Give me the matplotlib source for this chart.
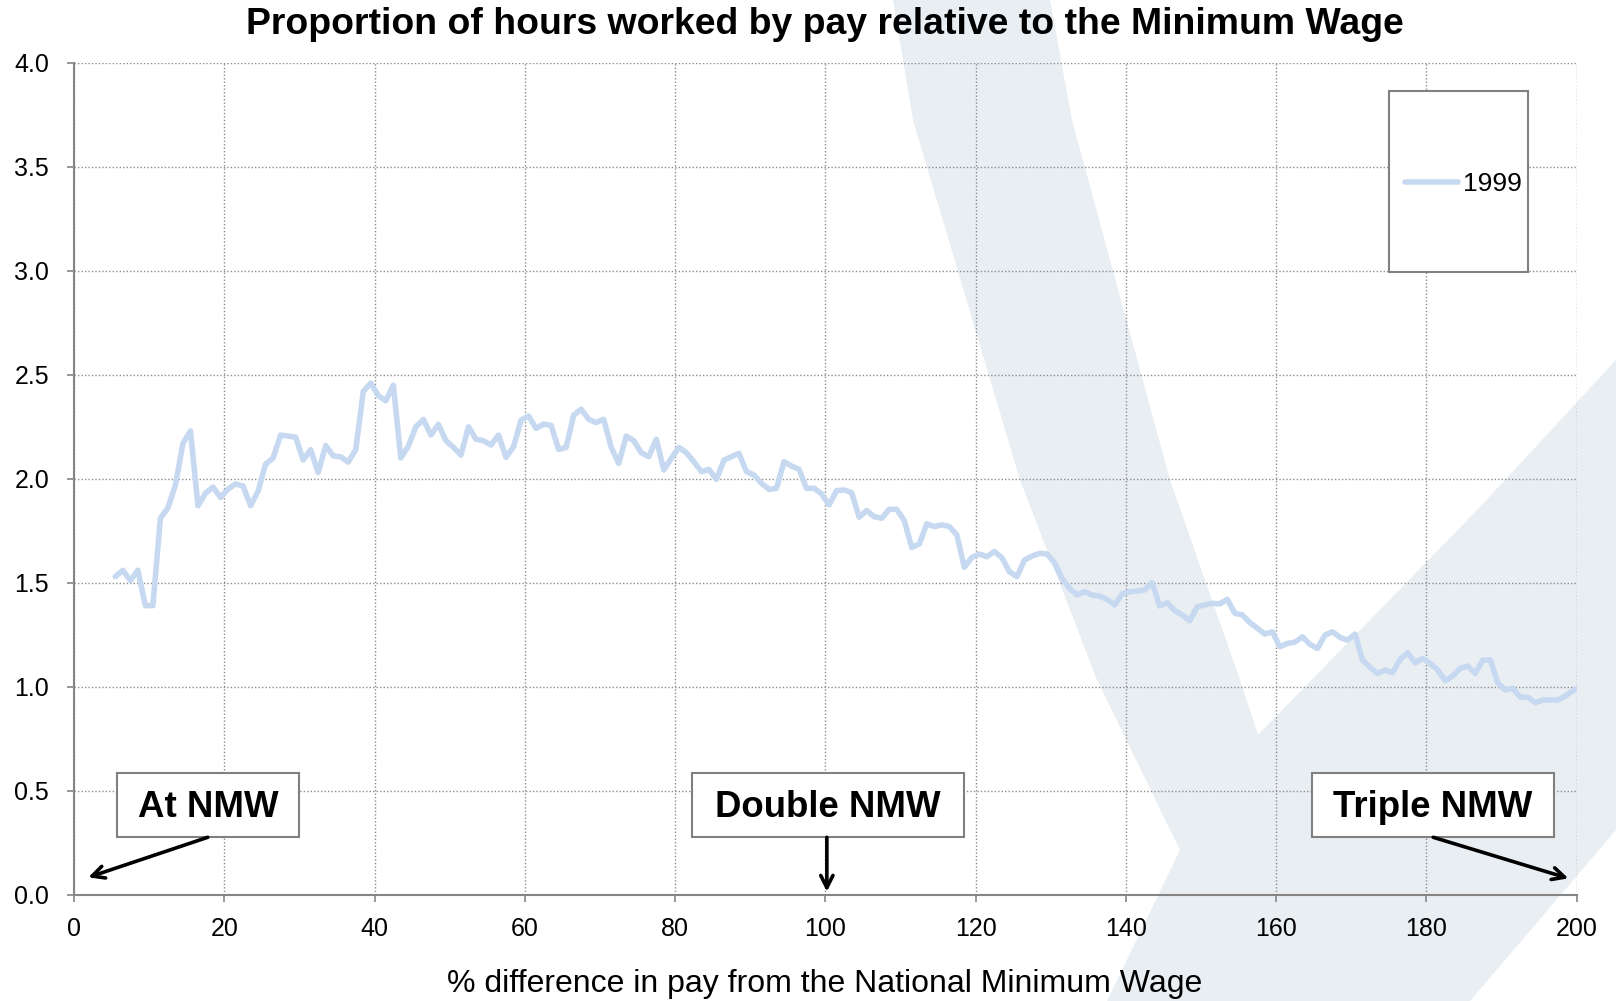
import numpy as np
import matplotlib.pyplot as plt
from matplotlib.patches import Polygon, Rectangle

plt.rcParams['font.family'] = ['Liberation Sans', 'DejaVu Sans']

# % difference from the NMW (bin mid-points) and share of hours worked, 1999
pct_diff = np.arange(5, 201) + 0.5
share_1999 = [
    1.53, 1.56, 1.51, 1.56, 1.39, 1.39, 1.81, 1.86, 1.97, 2.17,   # 5-14
    2.23, 1.87, 1.93, 1.96, 1.91, 1.95, 1.975, 1.965, 1.87, 1.94,  # 15-24
    2.07, 2.10, 2.21, 2.205, 2.20, 2.09, 2.14, 2.03, 2.16, 2.11,   # 25-34
    2.105, 2.08, 2.14, 2.42, 2.46, 2.40, 2.375, 2.45, 2.10, 2.157,  # 35-44
    2.25, 2.285, 2.21, 2.262, 2.183, 2.151, 2.114, 2.25, 2.19, 2.183,  # 45-54
    2.162, 2.21, 2.103, 2.154, 2.282, 2.302, 2.242, 2.263, 2.257, 2.141,  # 55-64
    2.151, 2.306, 2.334, 2.286, 2.27, 2.286, 2.151, 2.074, 2.205, 2.183,  # 65-74
    2.125, 2.106, 2.19, 2.042, 2.098, 2.151, 2.125, 2.082, 2.034, 2.045,  # 75-84
    1.997, 2.09, 2.106, 2.122, 2.034, 2.018, 1.978, 1.949, 1.954, 2.082,  # 85-94
    2.061, 2.045, 1.954, 1.954, 1.927, 1.874, 1.943, 1.946, 1.933, 1.815,  # 95-104
    1.847, 1.818, 1.81, 1.853, 1.853, 1.799, 1.67, 1.686, 1.783, 1.77,  # 105-114
    1.778, 1.77, 1.73, 1.574, 1.622, 1.638, 1.625, 1.65, 1.62, 1.553,  # 115-124
    1.529, 1.609, 1.628, 1.641, 1.638, 1.596, 1.521, 1.473, 1.441, 1.457,  # 125-134
    1.441, 1.436, 1.42, 1.393, 1.446, 1.457, 1.46, 1.465, 1.50, 1.388,  # 135-144
    1.404, 1.366, 1.345, 1.317, 1.385, 1.393, 1.401, 1.398, 1.42, 1.353,  # 145-154
    1.345, 1.308, 1.281, 1.253, 1.264, 1.192, 1.208, 1.214, 1.24, 1.203,  # 155-164
    1.184, 1.248, 1.264, 1.237, 1.224, 1.253, 1.128, 1.093, 1.064, 1.08,  # 165-174
    1.067, 1.131, 1.163, 1.115, 1.136, 1.112, 1.08, 1.029, 1.051, 1.088,  # 175-184
    1.099, 1.064, 1.128, 1.128, 1.019, 0.984, 0.992, 0.949, 0.949, 0.923,  # 185-194
    0.936, 0.936, 0.936, 0.955, 0.981, 1.0,                             # 195-200
]

x_ticks = [0, 20, 40, 60, 80, 100, 120, 140, 160, 180, 200]
y_ticks = [0.0, 0.5, 1.0, 1.5, 2.0, 2.5, 3.0, 3.5, 4.0]

W, H = 1616, 1001
fig = plt.figure(figsize=(W / 100, H / 100), dpi=100)


def fpx(pts):
    # pixel coords (y down) -> figure fraction
    return [(x / W, 1 - y / H) for x, y in pts]


# faint logo in the background
logo = [(893, 0), (1050, 0), (1072, 120), (1170, 480), (1240, 680), (1258, 735),
        (1480, 507), (1616, 360), (1616, 830), (1470, 1001), (1107, 1001),
        (1180, 850), (1097, 680), (1020, 480), (913, 120)]
fig.add_artist(Polygon(fpx(logo), closed=True, transform=fig.transFigure,
                       facecolor='#E9EEF3', edgecolor='none', zorder=-5))

ax = fig.add_axes([74 / W, 1 - 894.6 / H, (1576.7 - 74) / W, (894.6 - 62.9) / H])
ax.patch.set_alpha(0)

ax.plot(pct_diff, share_1999, color='#C6D9F1', lw=4.0, solid_joinstyle='round',
        solid_capstyle='round', label='1999', zorder=3)

ax.set_xlim(0, 200)
ax.set_ylim(0, 4)
ax.set_xticks(x_ticks)
ax.set_yticks(y_ticks)
ax.set_yticklabels(['%.1f' % v for v in y_ticks])
ax.grid(True, color='#8C8C8C', lw=1.0, linestyle=(0, (1, 1.5)), zorder=1)
for s in ['top', 'right']:
    ax.spines[s].set_visible(False)
for s in ['left', 'bottom']:
    ax.spines[s].set_color('#868686')
    ax.spines[s].set_linewidth(1.5)
ax.tick_params(axis='both', direction='out', length=5, width=1.2, color='#868686',
               labelsize=18, labelcolor='black')
ax.tick_params(axis='y', pad=13)
ax.tick_params(axis='x', pad=11)

# legend in a tall box
ax.add_patch(Rectangle((0.875, 0.7486), 0.0926, 0.2176, transform=ax.transAxes,
                       facecolor='white', edgecolor='#808080', lw=1.5, zorder=5))
ax.legend(loc='center left', bbox_to_anchor=(0.8858, 0.854), frameon=False,
          fontsize=19, handlelength=2.0, handletextpad=0.2, borderpad=0,
          borderaxespad=0).set_zorder(6)

# annotation boxes with arrows
notes = [('At NMW', 5.76, 29.91, (17.8, 0.2756), (1.9, 0.083)),
         ('Double NMW', 82.22, 118.5, (100.2, 0.2756), (100.2, 0.014)),
         ('Triple NMW', 164.74, 196.99, (180.9, 0.2756), (198.9, 0.078))]
for label, x0, x1, start, tip in notes:
    ax.add_patch(Rectangle((x0, 0.2756), x1 - x0, 0.3107, facecolor='white',
                           edgecolor='#808080', lw=1.5, zorder=5))
    ax.text((x0 + x1) / 2, 0.42, label, ha='center', va='center',
            fontsize=26.4, fontweight='bold', zorder=6)
    ax.annotate('', xy=tip, xytext=start, zorder=6,
                arrowprops=dict(arrowstyle='->', lw=2.6, color='black',
                                mutation_scale=22, shrinkA=0, shrinkB=0))

fig.text(825 / W, 1 - 24 / H, 'Proportion of hours worked by pay relative to the Minimum Wage',
         ha='center', va='center', fontsize=26.9, fontweight='bold')
fig.text(825 / W, 1 - 984 / H, '% difference in pay from the National Minimum Wage',
         ha='center', va='center', fontsize=23)

fig.savefig('out.png', dpi=100)
